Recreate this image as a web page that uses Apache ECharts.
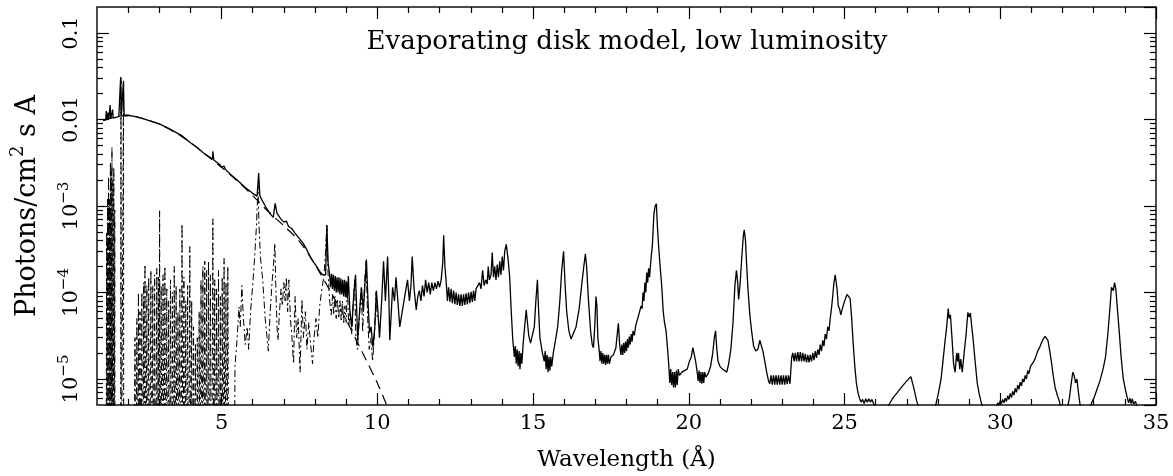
<!DOCTYPE html>
<html><head><meta charset="utf-8">
<script src="https://cdn.jsdelivr.net/npm/echarts@6/dist/echarts.min.js"></script>
<style>html,body{margin:0;padding:0;background:#fff}#c{width:1173px;height:476px}</style>
</head><body><div id="c"></div>
<script>
const FONT = 'DejaVu Serif';
const titleText = 'Evaporating disk model, low luminosity';
const xAxisTitle = 'Wavelength (Å)';
const yAxisTitleParts = ['Photons/cm', '2', ' s A'];
const xMin = 1, xMax = 35;
const yMin = 5e-6, yMax = 0.2;
const xMajorTicks = [5, 10, 15, 20, 25, 30, 35];
const xMinorTicks = [2,3,4,6,7,8,9,11,12,13,14,16,17,18,19,21,22,23,24,26,27,28,29,31,32,33,34];
const yMajorTicks = [1e-5, 1e-4, 1e-3, 1e-2, 1e-1];
const yTickBase = ['10', '10', '10', '0.01', '0.1'];
const yTickExp = ['\u22125', '\u22124', '\u22123', '', ''];
const yMinorTicks = [6e-6,7e-6,8e-6,9e-6,2e-5,3e-5,4e-5,5e-5,6e-5,7e-5,8e-5,9e-5,2e-4,3e-4,4e-4,5e-4,6e-4,7e-4,8e-4,9e-4,
  2e-3,3e-3,4e-3,5e-3,6e-3,7e-3,8e-3,9e-3,2e-2,3e-2,4e-2,5e-2,6e-2,7e-2,8e-2,9e-2];

// Total model spectrum (solid)
const totalSpectrum = [
[1.20,9.7e-3],[1.28,1.0e-2],[1.30,1.25e-2],[1.32,1.0e-2],[1.36,1.2e-2],[1.38,1.01e-2],[1.42,1.47e-2],[1.44,1.02e-2],[1.50,1.3e-2],[1.52,1.04e-2],[1.60,1.06e-2],[1.70,1.08e-2],[1.75,1.1e-2],[1.76,3.1e-2],[1.78,1.1e-2],[1.84,1.11e-2],[1.85,2.8e-2],[1.87,1.12e-2],[2.0,1.12e-2],[2.2,1.09e-2],[2.5,1.02e-2],[2.8,9.4e-3],[3.0,8.9e-3],[3.01,9.3e-3],[3.03,8.8e-3],[3.3,7.9e-3],[3.5,7.2e-3],[3.73,6.5e-3],[3.75,6.2e-3],[4.0,5.4e-3],[4.2,4.8e-3],[4.42,4.1e-3],[4.6,3.7e-3],[4.71,3.5e-3],[4.72,4.3e-3],[4.75,3.4e-3],[4.95,3.0e-3],[5.0,2.8e-3],[5.05,2.7e-3],[5.08,2.9e-3],[5.12,2.65e-3],[5.3,2.3e-3],[5.5,2.0e-3],[5.75,1.65e-3],[6.0,1.4e-3],[6.14,1.3e-3],[6.19,2.4e-3],[6.23,1.3e-3],[6.4,1.0e-3],[6.55,8.2e-4],[6.66,7.4e-4],[6.72,1.07e-3],[6.78,8.2e-4],[6.9,7.1e-4],[7.0,6.5e-4],[7.08,6.7e-4],[7.15,5.8e-4],[7.25,5.5e-4],[7.35,4.9e-4],[7.5,4.2e-4],[7.6,3.8e-4],[7.7,3.3e-4],[7.8,2.8e-4],[7.93,2.3e-4],[8.05,2.0e-4],[8.15,1.75e-4],[8.25,1.6e-4],[8.34,1.6e-4],[8.38,6.0e-4],[8.42,2.2e-4],[8.47,1.6e-4],
[8.50,1.15e-4],[8.53,1.65e-4],[8.56,1.1e-4],[8.59,1.6e-4],[8.62,1.05e-4],[8.65,1.55e-4],[8.68,1.0e-4],[8.71,1.5e-4],[8.74,1.0e-4],[8.77,1.5e-4],[8.80,9.5e-5],[8.83,1.45e-4],[8.86,9.5e-5],[8.89,1.4e-4],[8.92,9.0e-5],[8.95,1.4e-4],[8.98,8.8e-5],[9.01,1.35e-4],[9.04,8.5e-5],[9.07,1.55e-4],
[9.12,6e-5],[9.18,4e-5],[9.24,9e-5],[9.30,1.6e-4],[9.34,6e-5],[9.37,2.8e-5],[9.43,6e-5],[9.49,1.15e-4],[9.55,6e-5],[9.60,1.2e-4],[9.65,2.4e-4],[9.70,8e-5],[9.75,3.4e-5],[9.80,4e-5],[9.86,2.3e-5],[9.92,4e-5],[9.97,1.05e-4],[10.02,6e-5],[10.07,3e-5],[10.14,8e-5],[10.20,2.3e-4],[10.26,8e-5],[10.33,2.6e-4],[10.37,9e-5],[10.40,2.8e-5],[10.45,6e-5],[10.49,1.15e-4],[10.55,8e-5],[10.60,1.5e-4],[10.66,8e-5],[10.72,4e-5],[10.80,6e-5],[10.88,9e-5],[10.97,1.4e-4],[11.03,8e-5],[11.08,1.2e-4],[11.12,2.6e-4],[11.18,1.1e-4],[11.25,6.3e-5],[11.30,9e-5],[11.35,1.05e-4],[11.40,8e-5],[11.45,1.2e-4],[11.50,9e-5],[11.55,1.4e-4],[11.60,1e-4],[11.65,1.3e-4],[11.70,9.5e-5],[11.75,1.3e-4],[11.80,1.05e-4],[11.85,1.3e-4],[11.90,1.1e-4],[11.95,1.35e-4],[12.00,1.15e-4],[12.05,1.4e-4],[12.10,2.2e-4],[12.13,4.6e-4],[12.17,2.0e-4],[12.22,1.2e-4],
[12.25,8e-5],[12.29,1.15e-4],[12.33,7.8e-5],[12.37,1.1e-4],[12.41,7.5e-5],[12.45,1.05e-4],[12.49,7.3e-5],[12.53,1.0e-4],[12.57,7.2e-5],[12.61,9.5e-5],[12.65,7.0e-5],[12.69,9.5e-5],[12.73,7.0e-5],[12.77,9.5e-5],[12.81,7.2e-5],[12.85,9.8e-5],[12.89,7.3e-5],[12.93,1.0e-4],[12.97,7.5e-5],[13.01,1.02e-4],[13.05,7.8e-5],[13.09,1.05e-4],[13.13,8e-5],[13.17,1.1e-4],
[13.22,1.05e-4],[13.28,1.3e-4],[13.33,1.1e-4],[13.38,1.8e-4],[13.43,1.2e-4],[13.48,1.4e-4],[13.53,1.25e-4],[13.56,2.0e-4],[13.60,1.4e-4],[13.65,1.6e-4],[13.69,2.9e-4],[13.73,1.5e-4],
[13.77,2.0e-4],[13.81,1.4e-4],[13.85,2.1e-4],[13.89,1.5e-4],[13.93,2.3e-4],[13.97,1.6e-4],[14.01,2.6e-4],[14.05,1.8e-4],[14.09,3.0e-4],[14.14,3.6e-4],[14.2,2.4e-4],[14.25,1.5e-4],[14.30,6e-5],[14.35,2.8e-5],
[14.40,1.8e-5],[14.43,2.4e-5],[14.46,1.5e-5],[14.49,2.2e-5],[14.52,1.4e-5],[14.55,2.1e-5],[14.58,1.3e-5],[14.61,2.0e-5],[14.64,1.5e-5],[14.68,2.5e-5],[14.73,4e-5],[14.78,6.3e-5],[14.82,4.5e-5],[14.86,3.2e-5],[14.92,2.6e-5],[14.98,2.6e-5],[15.04,4e-5],[15.09,8e-5],[15.14,1.4e-4],[15.18,6e-5],[15.22,3e-5],[15.30,2e-5],
[15.36,1.6e-5],[15.39,2.1e-5],[15.42,1.3e-5],[15.45,1.9e-5],[15.48,1.2e-5],[15.51,1.8e-5],[15.54,1.25e-5],[15.57,1.8e-5],[15.60,1.4e-5],[15.65,2.0e-5],[15.72,2.8e-5],[15.79,4e-5],[15.86,8e-5],[15.92,1.8e-4],[15.98,3.0e-4],[16.03,1.2e-4],[16.08,6e-5],[16.15,3.6e-5],[16.22,2.9e-5],[16.28,2.8e-5],[16.38,4e-5],[16.48,6.5e-5],[16.57,1.3e-4],[16.63,2.0e-4],[16.68,2.8e-4],[16.72,2.0e-4],[16.78,8e-5],[16.85,3.5e-5],[16.90,2.5e-5],[16.94,2.3e-5],[16.98,4e-5],[17.02,9e-5],[17.05,7e-5],[17.08,3e-5],
[17.12,2.2e-5],[17.15,1.6e-5],[17.18,2.1e-5],[17.21,1.5e-5],[17.24,2.0e-5],[17.27,1.5e-5],[17.30,1.9e-5],[17.33,1.45e-5],[17.36,1.9e-5],[17.39,1.5e-5],[17.42,1.9e-5],[17.45,1.5e-5],[17.50,1.8e-5],[17.58,1.9e-5],[17.66,2.3e-5],[17.71,3.5e-5],[17.74,4.4e-5],[17.78,2.5e-5],
[17.82,1.9e-5],[17.85,2.5e-5],[17.88,1.9e-5],[17.91,2.6e-5],[17.94,2.0e-5],[17.97,2.7e-5],[18.00,2.1e-5],[18.03,2.9e-5],[18.06,2.3e-5],[18.09,3.1e-5],[18.12,2.5e-5],[18.15,3.3e-5],[18.18,2.7e-5],[18.21,3.6e-5],[18.25,3.2e-5],[18.30,4.2e-5],[18.36,5.0e-5],[18.42,6.0e-5],[18.47,7.0e-5],
[18.50,6.5e-5],[18.53,1.0e-4],[18.56,8e-5],[18.59,1.3e-4],[18.62,1.0e-4],[18.65,1.7e-4],[18.68,1.3e-4],[18.71,1.9e-4],[18.74,1.5e-4],[18.78,2.3e-4],[18.83,3.5e-4],[18.88,8e-4],[18.92,1.0e-3],[18.96,1.06e-3],[18.99,6e-4],[19.03,3.5e-4],[19.08,2.0e-4],[19.13,1.2e-4],[19.18,6e-5],[19.22,4.5e-5],[19.27,3.6e-5],[19.32,2.2e-5],
[19.36,1.4e-5],[19.39,9e-6],[19.42,1.3e-5],[19.45,8.5e-6],[19.48,1.2e-5],[19.51,8e-6],[19.54,1.2e-5],[19.57,8e-6],[19.60,1.25e-5],[19.63,8.5e-6],[19.66,1.3e-5],[19.70,1.1e-5],[19.78,1.2e-5],[19.86,1.25e-5],[19.95,1.3e-5],[20.02,1.6e-5],[20.08,1.8e-5],[20.13,2.3e-5],[20.18,2.2e-5],[20.22,1.6e-5],[20.27,1.2e-5],
[20.30,9.5e-6],[20.33,1.25e-5],[20.36,9e-6],[20.39,1.2e-5],[20.42,8.8e-6],[20.45,1.2e-5],[20.48,9e-6],[20.51,1.2e-5],[20.55,1.05e-5],[20.62,1.15e-5],[20.70,1.4e-5],[20.77,2.0e-5],[20.82,3.0e-5],[20.86,3.6e-5],[20.90,2.2e-5],[20.94,1.6e-5],[21.00,1.4e-5],[21.08,1.3e-5],[21.15,1.25e-5],[21.22,1.2e-5],[21.28,1.5e-5],[21.35,2.2e-5],[21.42,4.5e-5],[21.48,1.2e-4],[21.53,1.8e-4],[21.57,1.3e-4],[21.60,8.3e-5],[21.65,1.3e-4],[21.70,2.5e-4],[21.75,4.5e-4],[21.78,5.3e-4],[21.82,4.0e-4],[21.86,2.0e-4],[21.90,1.1e-4],[21.96,5.5e-5],[22.02,3.5e-5],[22.08,2.4e-5],[22.15,2.1e-5],[22.22,2.2e-5],[22.28,2.8e-5],[22.33,2.7e-5],[22.38,2.1e-5],[22.44,1.6e-5],[22.50,1.2e-5],[22.56,9.5e-6],
[22.60,8.8e-6],[22.64,1.1e-5],[22.68,8.6e-6],[22.72,1.1e-5],[22.76,8.6e-6],[22.80,1.1e-5],[22.84,8.6e-6],[22.88,1.1e-5],[22.92,8.6e-6],[22.96,1.1e-5],[23.00,8.6e-6],[23.04,1.1e-5],[23.08,8.6e-6],[23.12,1.1e-5],[23.16,8.7e-6],[23.20,1.1e-5],[23.25,8.8e-6],[23.28,9e-6],[23.30,1.75e-5],
[23.34,2.0e-5],[23.38,1.6e-5],[23.42,2.0e-5],[23.46,1.6e-5],[23.50,2.05e-5],[23.54,1.6e-5],[23.58,2.05e-5],[23.62,1.6e-5],[23.66,2.0e-5],[23.70,1.6e-5],[23.74,1.95e-5],[23.78,1.55e-5],[23.82,1.9e-5],[23.86,1.55e-5],[23.90,1.9e-5],[23.94,1.6e-5],[23.98,2.0e-5],[24.02,1.65e-5],[24.06,2.1e-5],[24.10,1.75e-5],[24.14,2.2e-5],[24.18,1.9e-5],[24.22,2.5e-5],[24.26,2.1e-5],[24.30,2.8e-5],[24.34,2.4e-5],[24.38,3.3e-5],[24.42,2.9e-5],[24.46,4.0e-5],[24.50,3.6e-5],[24.54,5.0e-5],[24.58,6.5e-5],[24.62,9e-5],[24.66,1.3e-4],[24.70,1.6e-4],[24.73,1.6e-4],[24.76,1.1e-4],[24.80,7e-5],[24.84,6.5e-5],[24.88,5.5e-5],[24.93,6.5e-5],[24.98,7.5e-5],[25.03,8.5e-5],[25.08,9.5e-5],[25.13,9.8e-5],[25.18,8.5e-5],[25.23,5e-5],[25.28,2.5e-5],[25.33,1.4e-5],[25.38,9e-6],[25.43,7e-6],[25.48,6e-6],[25.53,5.4e-6],[25.58,5.8e-6],[25.63,5.2e-6],[25.68,5.9e-6],[25.73,5.4e-6],[25.78,5.9e-6],[25.83,5.4e-6],[25.88,5.8e-6],[25.95,5e-6],[26.05,4.5e-6],[26.20,4.3e-6],[26.35,4.6e-6],[26.45,5.2e-6],[26.55,6e-6],[26.70,7e-6],[26.85,8.2e-6],[27.00,9.5e-6],[27.13,1.06e-5],[27.22,8e-6],[27.32,5.5e-6],[27.40,4.5e-6],[27.60,4e-6],[27.85,4.3e-6],[27.93,5e-6],[28.00,6.5e-6],[28.05,8e-6],[28.10,1.0e-5],[28.16,1.6e-5],[28.22,2.6e-5],[28.28,4.0e-5],[28.33,6.5e-5],[28.36,5e-5],[28.40,5.5e-5],[28.45,3e-5],[28.50,1.5e-5],[28.55,1.2e-5],[28.60,2e-5],[28.63,1.6e-5],[28.66,2e-5],[28.70,1.3e-5],[28.73,1.7e-5],[28.78,1.2e-5],[28.84,2e-5],[28.90,3.2e-5],[28.96,5.9e-5],[29.00,5.2e-5],[29.04,5.8e-5],[29.08,4.2e-5],[29.14,2.6e-5],[29.20,1.5e-5],[29.26,9e-6],[29.32,6.8e-6],[29.38,5.5e-6],[29.45,4.5e-6],[29.65,4e-6],[29.85,4.5e-6],[29.92,5.3e-6],[29.96,5.0e-6],[30.00,5.6e-6],[30.04,5.2e-6],[30.08,5.8e-6],[30.12,5.3e-6],[30.16,6.0e-6],[30.20,5.5e-6],[30.24,6.4e-6],[30.28,5.8e-6],[30.32,6.8e-6],[30.36,6.1e-6],[30.40,7.2e-6],[30.44,6.5e-6],[30.48,7.8e-6],[30.52,7.0e-6],[30.56,8.5e-6],[30.60,7.6e-6],[30.64,9.2e-6],[30.68,8.3e-6],[30.72,1.0e-5],[30.76,9.2e-6],[30.80,1.1e-5],[30.84,1.0e-5],[30.88,1.25e-5],[30.92,1.15e-5],[30.97,1.4e-5],[31.02,1.35e-5],[31.08,1.6e-5],[31.14,1.8e-5],[31.20,2.1e-5],[31.26,2.3e-5],[31.32,2.6e-5],[31.38,2.9e-5],[31.44,3.1e-5],[31.48,3.1e-5],[31.53,2.8e-5],[31.58,2.2e-5],[31.64,1.6e-5],[31.70,1.1e-5],[31.76,8e-6],[31.83,6.5e-6],[31.90,5.5e-6],[31.95,4.5e-6],[32.15,4.5e-6],[32.22,6e-6],[32.28,9e-6],[32.33,1.2e-5],[32.37,1.1e-5],[32.42,9e-6],[32.46,1.0e-5],[32.52,6.5e-6],[32.58,4.5e-6],[32.85,4.3e-6],[32.95,5.5e-6],[33.02,6.2e-6],[33.10,7.5e-6],[33.20,9.5e-6],[33.30,1.3e-5],[33.38,1.8e-5],[33.45,3.2e-5],[33.52,6.5e-5],[33.57,1.15e-4],[33.60,1.2e-4],[33.63,1.05e-4],[33.67,1.3e-4],[33.71,1.1e-4],[33.76,6.5e-5],[33.82,3.5e-5],[33.88,1.8e-5],[33.95,1.0e-5],[34.02,7.5e-6],[34.08,6e-6],[34.12,5.3e-6],[34.16,6e-6],[34.20,5.2e-6],[34.24,5.9e-6],[34.28,5.1e-6],[34.34,5.5e-6],[34.40,4.8e-6],[34.55,4.2e-6],[35.0,3.5e-6]
];

// Disk continuum (dashed)
const continuumSpectrum = [
[1.2,9.7e-3],[1.5,1.05e-2],[1.8,1.1e-2],[2.1,1.1e-2],[2.5,1.02e-2],[3.0,8.8e-3],[3.5,7.1e-3],[4.0,5.4e-3],[4.5,3.9e-3],[5.0,2.8e-3],[5.5,1.95e-3],[6.0,1.32e-3],[6.5,8.6e-4],[7.0,5.9e-4],[7.5,3.9e-4],[8.0,2.1e-4],[8.5,1.02e-4],[9.0,4.8e-5],[9.5,2.1e-5],[10.0,9e-6],[10.3,5e-6],[10.6,2.8e-6]
];

// Line emission component (dash-dot)
const lineSpectrum = [
[1.20,1e-7],[1.29,1e-7],[1.31,5e-4],[1.32,1e-7],[1.34,1.2e-3],[1.35,1e-7],[1.37,2.2e-3],[1.38,1e-7],[1.40,1.2e-3],[1.41,1e-7],[1.43,3.2e-3],[1.44,1e-7],[1.46,2.5e-3],[1.47,1e-7],[1.48,4.8e-3],[1.49,1e-7],[1.51,2.0e-3],[1.52,1e-7],[1.54,2.8e-3],[1.55,1e-7],[1.57,9e-4],[1.58,1e-7],[1.76,1e-7],[1.77,3.0e-2],[1.78,1e-7],[1.84,1e-7],[1.85,2.7e-2],[1.86,1e-7],[2.18,1e-7],
[2.22,3e-5],[2.25,1e-7],[2.28,5e-5],[2.30,1e-7],[2.33,1.0e-4],[2.35,1e-7],[2.38,6e-5],[2.41,1e-7],[2.44,1.0e-4],[2.47,1e-7],[2.50,1.3e-4],[2.52,1e-7],[2.54,2.1e-4],[2.57,1e-7],[2.60,1.2e-4],[2.63,1e-7],[2.66,1.5e-4],[2.69,1e-7],[2.73,1.8e-4],[2.76,1e-7],[2.79,1.2e-4],[2.82,1e-7],[2.85,1.6e-4],[2.88,1e-7],[2.92,1.9e-4],[2.94,1e-7],[2.97,1.5e-4],[2.99,1e-7],[3.01,8.8e-4],[3.03,1e-7],[3.06,1.2e-4],[3.09,1e-7],[3.12,1.6e-4],[3.15,1e-7],[3.18,2.0e-4],[3.21,1e-7],[3.24,1.1e-4],[3.27,1e-7],[3.30,8e-5],[3.33,1e-7],[3.36,1.4e-4],[3.39,1e-7],[3.42,1.0e-4],[3.45,1e-7],[3.48,2.0e-4],[3.51,1e-7],[3.54,1.2e-4],[3.57,1e-7],[3.60,6e-5],[3.63,1e-7],[3.66,1.1e-4],[3.69,1e-7],[3.73,6.2e-4],[3.76,1e-7],[3.79,1.5e-4],[3.82,1e-7],[3.85,8e-5],[3.88,1e-7],[3.91,1.2e-4],[3.94,1e-7],[3.98,3.4e-4],[4.01,1e-7],[4.04,8e-5],[4.07,1e-7],[4.10,4e-5],[4.13,1e-7],[4.16,2.5e-5],[4.19,1e-7],[4.22,3e-5],[4.25,1e-7],[4.28,6e-5],[4.31,1e-7],[4.34,1.4e-4],[4.37,1e-7],[4.40,2.0e-4],[4.43,1e-7],[4.46,2.3e-4],[4.49,1e-7],[4.52,1.8e-4],[4.55,1e-7],[4.58,2.3e-4],[4.61,1e-7],[4.64,1.6e-4],[4.68,1e-7],[4.72,7.1e-4],[4.75,1e-7],[4.78,1.4e-4],[4.81,1e-7],[4.84,1.1e-4],[4.87,1e-7],[4.90,1.8e-4],[4.93,1e-7],[4.96,9e-5],[4.99,1e-7],[5.02,1.5e-4],[5.05,1e-7],[5.08,2.5e-4],[5.11,1e-7],[5.14,1.3e-4],[5.17,1e-7],[5.20,2.0e-4],[5.23,1e-7],
[5.40,1e-7],[5.43,1.4e-5],[5.50,3e-5],[5.56,6.8e-5],[5.60,4e-5],[5.65,1.2e-4],[5.70,5e-5],[5.76,2.5e-5],[5.82,4e-5],[5.87,2.2e-5],[5.93,6e-5],[5.99,1.1e-4],[6.06,2.5e-4],[6.12,6e-4],[6.17,1.7e-3],[6.20,6e-4],[6.25,2.5e-4],[6.32,1.4e-4],[6.40,5e-5],[6.46,3e-5],[6.50,2.1e-5],[6.56,6e-5],[6.62,1.3e-4],[6.67,2.2e-4],[6.71,3.7e-4],[6.74,1.2e-4],[6.78,4e-5],[6.81,2.8e-5],[6.86,6e-5],[6.91,1.1e-4],[6.95,7e-5],[7.00,1.3e-4],[7.04,8e-5],[7.08,1.5e-4],[7.12,6e-5],[7.16,1.4e-4],[7.21,5e-5],[7.26,3e-5],[7.31,1.5e-5],[7.36,9e-5],[7.41,3e-5],[7.46,5e-5],[7.52,1.2e-5],[7.58,8.3e-5],[7.63,3e-5],[7.69,6e-5],[7.74,2.2e-5],[7.80,4.5e-5],[7.86,2.5e-5],[7.92,1.5e-5],[7.97,3e-5],[8.03,5e-5],[8.09,3e-5],[8.15,7e-5],[8.22,1.1e-4],[8.29,1.6e-4],[8.34,3e-4],[8.38,6e-4],[8.42,1.6e-4],[8.47,8e-5],[8.52,5.5e-5],[8.56,9e-5],[8.60,5.5e-5],[8.64,9e-5],[8.68,5e-5],[8.72,8.5e-5],[8.76,5e-5],[8.80,8e-5],[8.84,4.8e-5],[8.88,8e-5],[8.92,4.5e-5],[8.96,7e-5],[9.00,4.5e-5],[9.04,1.3e-4],[9.08,4e-5],[9.13,6e-5],[9.18,3.3e-5],[9.23,8e-5],[9.27,1.4e-4],[9.31,3e-5],[9.36,2.2e-5],[9.42,5e-5],[9.48,1.1e-4],[9.53,3.5e-5],[9.59,1.3e-4],[9.64,2.3e-4],[9.69,5e-5],[9.74,2.2e-5],[9.79,3e-5],[9.85,1.6e-5],[9.91,3.5e-5],[9.96,1.0e-4],[10.0,5e-5]
];

const chart = echarts.init(document.getElementById('c'), null, {renderer: 'canvas'});
const txt = {fontFamily: FONT, color: '#000'};
const tickStyle = {color: '#000', width: 1.2};
function yLabel(v) {
  const e = Math.round(Math.log10(v));
  const i = yMajorTicks.findIndex(t => Math.round(Math.log10(t)) === e);
  if (i < 0) return '';
  return yTickExp[i] ? '{b|' + yTickBase[i] + '}{s|' + yTickExp[i] + '}' : '{b|' + yTickBase[i] + '}';
}
const lyMin = Math.log10(yMin), lyMax = Math.log10(yMax);
const yMinorLog = yMinorTicks.map(v => Math.log10(v));

chart.setOption({
  animation: false,
  backgroundColor: '#fff',
  title: {
    text: titleText, left: 627, top: 29, textAlign: 'center', padding: 0,
    textStyle: Object.assign({fontSize: 26, fontWeight: 'normal'}, txt)
  },
  grid: {left: 97, right: 17, top: 7, bottom: 71, show: true, borderColor: '#111', borderWidth: 1.5,
         backgroundColor: 'transparent', containLabel: false, outerBoundsMode: 'none'},
  xAxis: [
    {type: 'value', min: xMin, max: xMax, position: 'bottom',
     axisLine: {show: false}, splitLine: {show: false},
     axisTick: {show: true, inside: true, length: 12, customValues: xMajorTicks, lineStyle: tickStyle},
     axisLabel: Object.assign({customValues: xMajorTicks, fontSize: 21, margin: 8}, txt),
     name: xAxisTitle, nameLocation: 'middle', nameGap: 44,
     nameTextStyle: Object.assign({fontSize: 23}, txt)},
    {type: 'value', min: xMin, max: xMax, position: 'bottom',
     axisLine: {show: false}, splitLine: {show: false}, axisLabel: {show: false},
     axisTick: {show: true, inside: true, length: 6, customValues: xMinorTicks, lineStyle: tickStyle}},
    {type: 'value', min: xMin, max: xMax, position: 'top',
     axisLine: {show: false}, splitLine: {show: false}, axisLabel: {show: false},
     axisTick: {show: true, inside: true, length: 12, customValues: xMajorTicks, lineStyle: tickStyle}},
    {type: 'value', min: xMin, max: xMax, position: 'top',
     axisLine: {show: false}, splitLine: {show: false}, axisLabel: {show: false},
     axisTick: {show: true, inside: true, length: 6, customValues: xMinorTicks, lineStyle: tickStyle}}
  ],
  yAxis: [
    {type: 'log', logBase: 10, min: yMin, max: yMax, position: 'left',
     axisLine: {show: false}, splitLine: {show: false},
     axisTick: {show: true, inside: true, length: 12, lineStyle: tickStyle},
     axisLabel: {rotate: 90, showMinLabel: false, showMaxLabel: false, margin: 10, formatter: yLabel,
       rich: {b: {fontFamily: FONT, fontSize: 21, color: '#000', lineHeight: 30},
              s: {fontFamily: FONT, fontSize: 15, color: '#000', verticalAlign: 'top'}}},
     name: '{a|' + yAxisTitleParts[0] + '}{s|' + yAxisTitleParts[1] + '}{a|' + yAxisTitleParts[2] + '}',
     nameLocation: 'middle', nameGap: 50, nameRotate: 90,
     nameTextStyle: {rich: {a: {fontFamily: FONT, fontSize: 27, color: '#000', lineHeight: 38},
                            s: {fontFamily: FONT, fontSize: 18, color: '#000', verticalAlign: 'top'}}}},
    {type: 'value', min: lyMin, max: lyMax, position: 'left',
     axisLine: {show: false}, splitLine: {show: false}, axisLabel: {show: false},
     axisTick: {show: true, inside: true, length: 6, customValues: yMinorLog, lineStyle: tickStyle}},
    {type: 'log', logBase: 10, min: yMin, max: yMax, position: 'right',
     axisLine: {show: false}, splitLine: {show: false}, axisLabel: {show: false},
     axisTick: {show: true, inside: true, length: 12, lineStyle: tickStyle}},
    {type: 'value', min: lyMin, max: lyMax, position: 'right',
     axisLine: {show: false}, splitLine: {show: false}, axisLabel: {show: false},
     axisTick: {show: true, inside: true, length: 6, customValues: yMinorLog, lineStyle: tickStyle}}
  ],
  series: [
    {name: 'lines', type: 'line', data: lineSpectrum, xAxisIndex: 0, yAxisIndex: 0,
     showSymbol: false, symbol: 'none', clip: true, silent: true,
     lineStyle: {color: '#000', width: 1.0, type: [7, 3, 2, 3]}},
    {name: 'continuum', type: 'line', data: continuumSpectrum, xAxisIndex: 0, yAxisIndex: 0,
     showSymbol: false, symbol: 'none', clip: true, silent: true, smooth: 0.3,
     lineStyle: {color: '#000', width: 1.2, type: [10, 6]}},
    {name: 'total', type: 'line', data: totalSpectrum, xAxisIndex: 0, yAxisIndex: 0,
     showSymbol: false, symbol: 'none', clip: true, silent: true,
     lineStyle: {color: '#000', width: 1.3}}
  ]
});
</script></body></html>
